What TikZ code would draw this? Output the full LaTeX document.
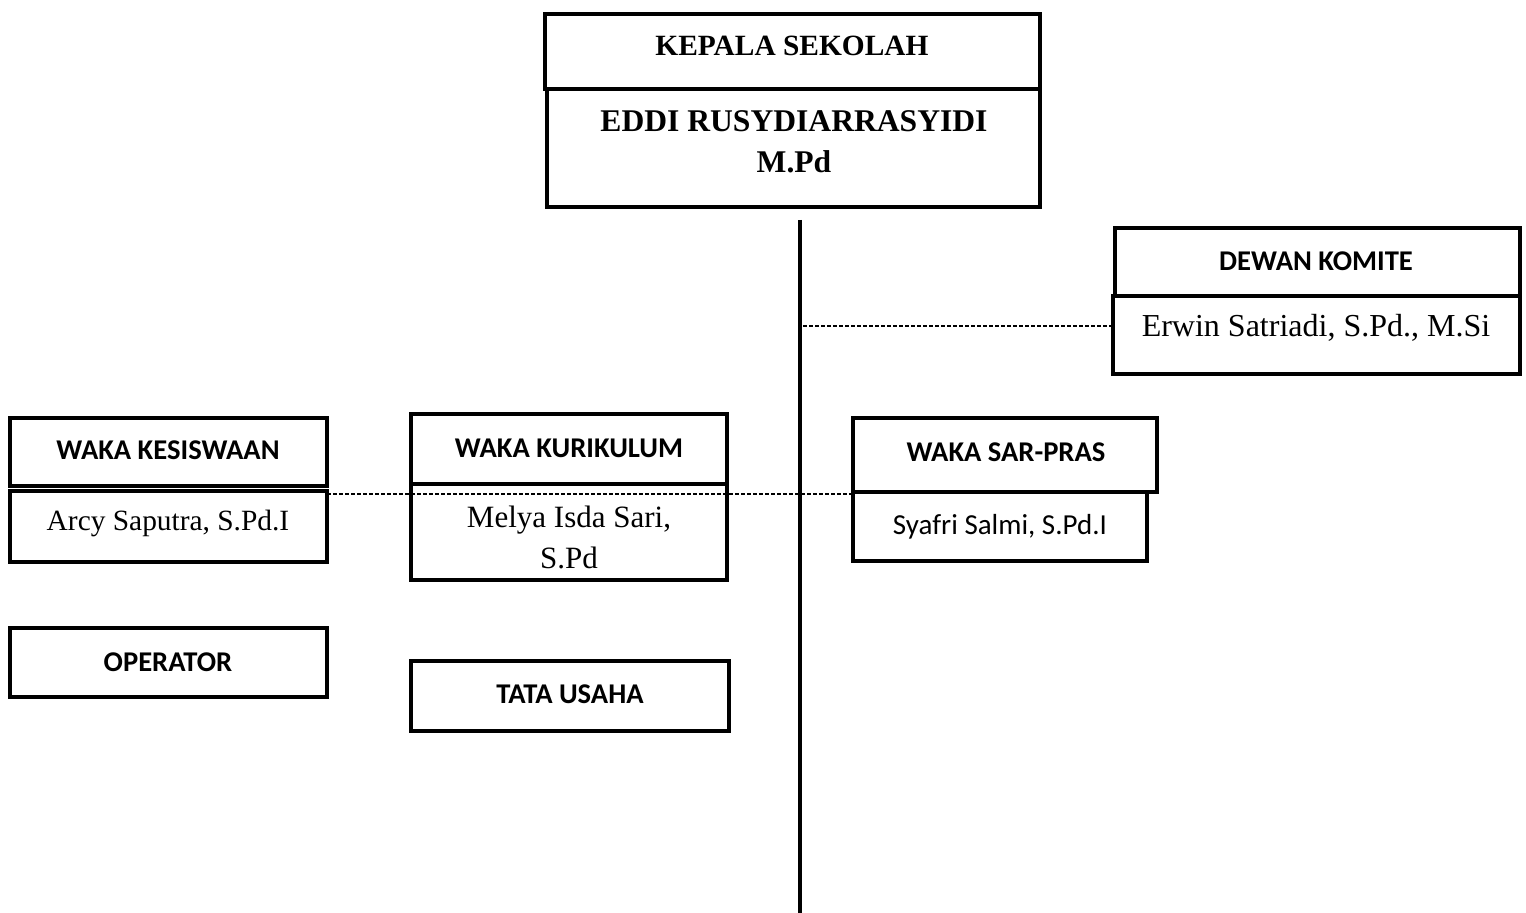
\documentclass[tikz,border=0pt]{standalone}
\usepackage{fontspec}
\setmainfont{Liberation Serif}
\newfontfamily\calfont{Carlito}
\begin{document}
\begin{tikzpicture}[x=0.5pt,y=-0.5pt,
  box/.style={draw=black,line width=2pt,inner sep=0pt,rectangle},
  tb/.style={font=\fontsize{14.7}{17}\selectfont\bfseries,inner sep=0pt,align=center},
  tr/.style={font=\fontsize{15.5}{18}\selectfont,inner sep=0pt},
  cb/.style={font=\calfont\fontsize{14.3}{17}\selectfont\bfseries,inner sep=0pt},
  cr/.style={font=\calfont\fontsize{14.5}{17}\selectfont,inner sep=0pt},
  dline/.style={line width=0.8pt,dash pattern=on 2pt off 1pt},
  vline/.style={line width=2pt}]
\useasboundingbox (0,0) rectangle (1526,913);
% boxes
\node[box,minimum width=247.5pt,minimum height=37.5pt] (kepT) at (792.5,51.5) {};
\node[box,minimum width=246.5pt,minimum height=59pt] (kepB) at (793.5,148) {};
\node[box,minimum width=202.5pt,minimum height=34pt] (dewT) at (1317.5,262) {};
\node[box,minimum width=203.5pt,minimum height=39pt] (dewB) at (1316.5,335) {};
\node[box,minimum width=158.5pt,minimum height=34pt] (kesT) at (168.5,452) {};
\node[box,minimum width=158.5pt,minimum height=35.5pt] (kesB) at (168.5,526.5) {};
\node[box,minimum width=158pt,minimum height=35pt] (kurT) at (569,449) {};
\node[box,minimum width=158pt,minimum height=48pt] (kurB) at (569,532) {};
\node[box,minimum width=152pt,minimum height=37pt] (sarT) at (1005,455) {};
\node[box,minimum width=147pt,minimum height=34.5pt] (sarB) at (1000,526.5) {};
\node[box,minimum width=158.5pt,minimum height=34.5pt] (op) at (168.5,662.5) {};
\node[box,minimum width=159pt,minimum height=35pt] (tu) at (570,696) {};
% texts
\node[tb] (tkep) at (792,46) {KEPALA SEKOLAH};
\node[tb,font=\fontsize{15.8}{20.5}\selectfont\bfseries] (tnama) at (794,142) {EDDI RUSYDIARRASYIDI\\M.Pd};
\node[cb] (tdew) at (1316,261) {DEWAN KOMITE};
\node[tr,font=\fontsize{16}{18}\selectfont] (terw) at (1316,328) {Erwin Satriadi, S.Pd., M.Si};
\node[cb] (tkes) at (168,450) {WAKA KESISWAAN};
\node[tr,font=\fontsize{14.7}{18}\selectfont] (tarc) at (168,523) {Arcy Saputra, S.Pd.I};
\node[cb] (tkur) at (569,448) {WAKA KURIKULUM};
\node[tr] (tmel) at (569,520) {Melya Isda Sari,};
\node[tr] (tspd) at (569,558) {S.Pd};
\node[cb] (tsar) at (1006,452) {WAKA SAR-PRAS};
\node[cr] (tsya) at (1000,527) {Syafri Salmi, S.Pd.I};
\node[cb] (top) at (168,662) {OPERATOR};
\node[cb] (ttu) at (570,694) {TATA USAHA};
% connectors
\coordinate (vtop) at (800,220);
\coordinate (vbot) at (800,913);
\coordinate (dk) at (803,326);
\coordinate (dl) at (327,494);
\coordinate (dr) at (853,494);
\draw[vline] (vtop) -- (vbot);
\draw[dline] (dk) -- (dk -| dewB.west);
\draw[dline] (dl) -- (dr);
\end{tikzpicture}
\end{document}
